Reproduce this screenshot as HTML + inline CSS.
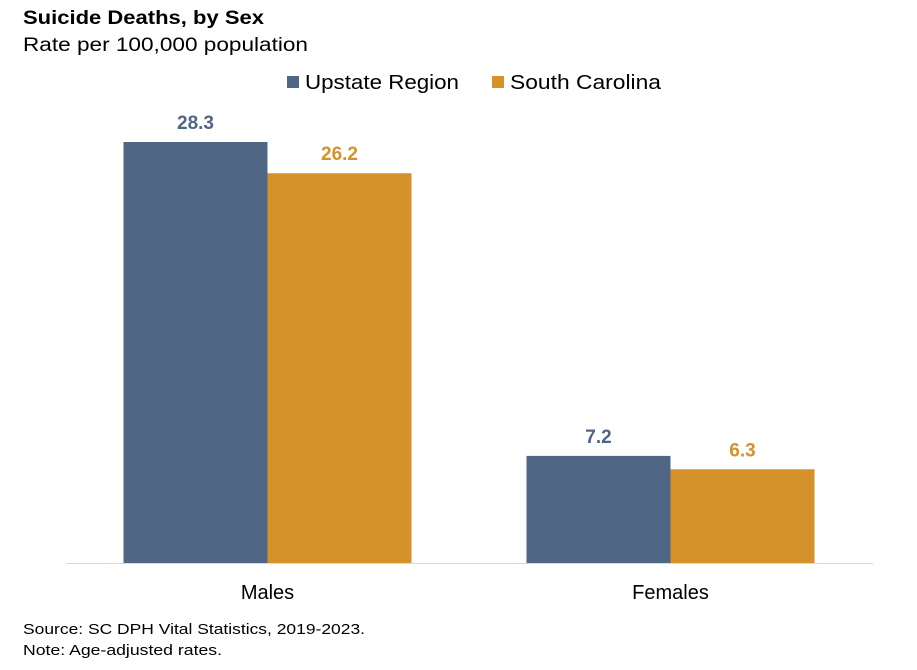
<!DOCTYPE html>
<html><head><meta charset="utf-8"><style>
html,body{margin:0;padding:0;background:#fff;}
svg{display:block;font-family:"Liberation Sans",sans-serif;}
</style></head><body>
<svg id="chart" width="917" height="670" viewBox="0 0 917 670">
<text x="23" y="24" font-size="19" font-weight="bold" fill="#000" textLength="241" lengthAdjust="spacingAndGlyphs">Suicide Deaths, by Sex</text>
<text x="23" y="51" font-size="19" fill="#000" textLength="285" lengthAdjust="spacingAndGlyphs">Rate per 100,000 population</text>
<g>
<rect x="287" y="76" width="12" height="12" fill="#4f6785"/>
<text x="305" y="89" font-size="20" fill="#000" textLength="154" lengthAdjust="spacingAndGlyphs">Upstate Region</text>
<rect x="492" y="76" width="12" height="12" fill="#d5922b"/>
<text x="510" y="89" font-size="20" fill="#000" textLength="151" lengthAdjust="spacingAndGlyphs">South Carolina</text>
</g>
<line x1="66" y1="563.5" x2="873" y2="563.5" stroke="#d9d9d9" stroke-width="1"/>
<g id="bars"></g>
<text x="23" y="634" font-size="15" fill="#000" textLength="342" lengthAdjust="spacingAndGlyphs">Source: SC DPH Vital Statistics, 2019-2023.</text>
<text x="23" y="655" font-size="15" fill="#000" textLength="199" lengthAdjust="spacingAndGlyphs">Note: Age-adjusted rates.</text>
</svg>
<script>
const categories = ["Males", "Females"];
const upstate = [28.3, 7.2];
const southCarolina = [26.2, 6.3];
const seriesColors = ["#4f6785", "#d5922b"];
const seriesNames = ["upstate", "sc"];

const ns = "http://www.w3.org/2000/svg";
const g = document.getElementById("bars");
const baseY = 563, pxPerUnit = 421 / 28.3;
const plotLeft = 66, catWidth = 403, barW = 144;
function yScale(v){ return baseY - v * pxPerUnit; }
function catCenter(i){ return plotLeft + catWidth * (i + 0.5); }
const series = [upstate, southCarolina];
categories.forEach((c, i) => {
  const cx = catCenter(i);
  series.forEach((s, j) => {
    const x = cx - barW + j * barW;
    const y = yScale(s[i]);
    const r = document.createElementNS(ns, "rect");
    r.setAttribute("x", x); r.setAttribute("y", y);
    r.setAttribute("width", barW); r.setAttribute("height", baseY - y);
    r.setAttribute("fill", seriesColors[j]);
    
    
    g.appendChild(r);
    const t = document.createElementNS(ns, "text");
    t.setAttribute("x", x + barW / 2); t.setAttribute("y", y - 13);
    t.setAttribute("text-anchor", "middle"); t.setAttribute("font-size", "19");
    t.setAttribute("font-weight", "bold"); t.setAttribute("fill", seriesColors[j]);
    t.textContent = s[i].toFixed(1);
    
    
    g.appendChild(t);
  });
  const lab = document.createElementNS(ns, "text");
  lab.setAttribute("x", cx); lab.setAttribute("y", 599);
  lab.setAttribute("text-anchor", "middle"); lab.setAttribute("font-size", "20");
  lab.setAttribute("fill", "#000");
  lab.textContent = c;
  
  
  g.appendChild(lab);
});
</script>
</body></html>
